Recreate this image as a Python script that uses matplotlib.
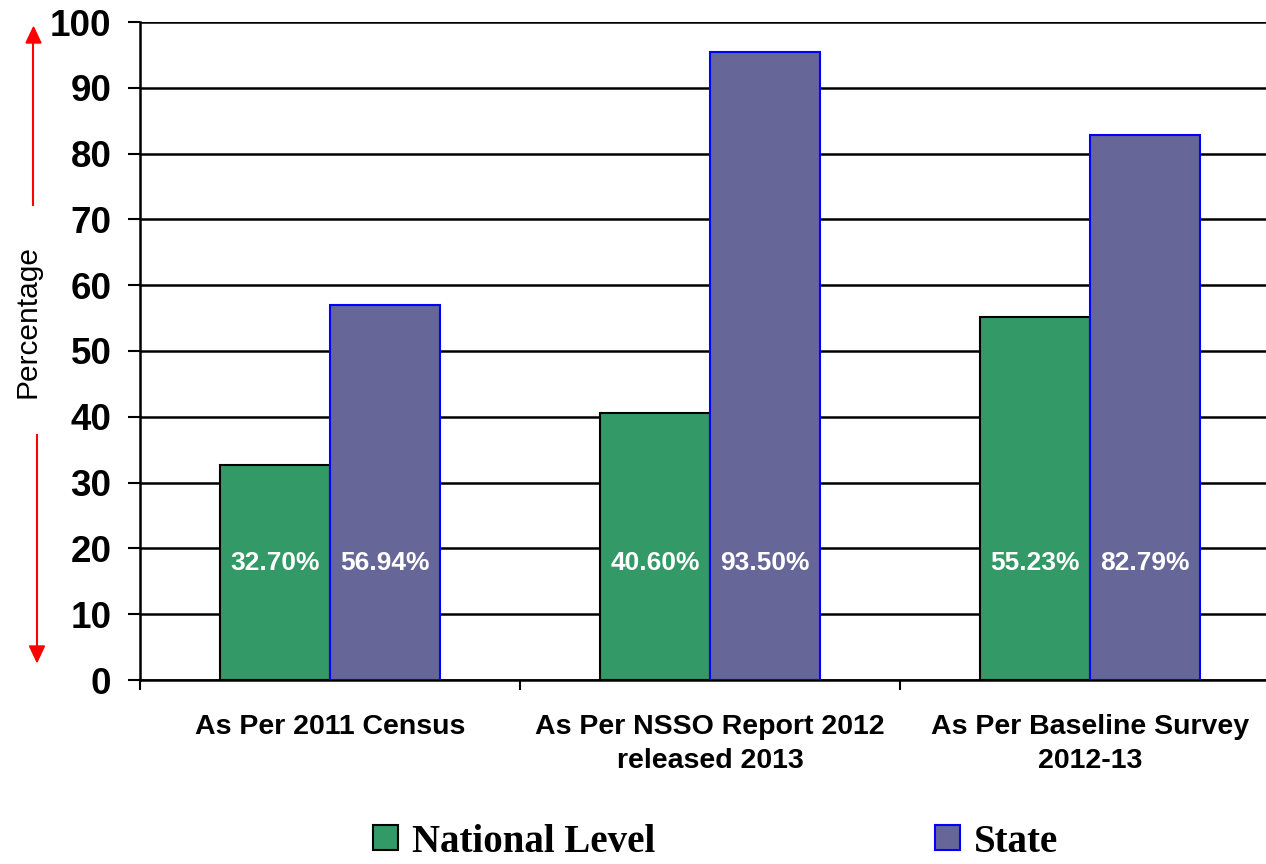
import matplotlib.pyplot as plt
from matplotlib.patches import Patch
import numpy as np

categories = ["As Per 2011 Census", "As Per NSSO Report 2012\nreleased 2013", "As Per Baseline Survey\n2012-13"]
national = [32.70, 40.60, 55.23]
state = [56.94, 95.40, 82.79]
national_labels = ["32.70%", "40.60%", "55.23%"]
state_labels = ["56.94%", "93.50%", "82.79%"]
yticks = [0, 10, 20, 30, 40, 50, 60, 70, 80, 90, 100]

green = "#339966"
purple = "#666699"

fig = plt.figure(figsize=(12.66, 8.64), dpi=100)
# axis runs past the right edge, like the source slide
ax = fig.add_axes([140/1266, 1 - 680/864, 1140/1266, 658/864])

x = np.arange(len(categories))
w = 0.29
ax.bar(x - w/2, national, w, color=green, edgecolor="black", linewidth=1.5, zorder=3)
ax.bar(x + w/2, state, w, color=purple, edgecolor="#0000ff", linewidth=1.5, zorder=3)

for i in range(len(categories)):
    ax.text(x[i] - w/2, 17.8, national_labels[i], color="white", fontsize=19, fontweight="bold",
            ha="center", va="center", family="Liberation Sans", zorder=4)
    ax.text(x[i] + w/2, 17.8, state_labels[i], color="white", fontsize=19, fontweight="bold",
            ha="center", va="center", family="Liberation Sans", zorder=4)

ax.set_xlim(-0.5, 2.5)
ax.set_ylim(0, 100)
ax.set_yticks(yticks)
ax.set_yticklabels([str(t) for t in yticks], fontsize=26.5, fontweight="bold", family="Liberation Sans")
ax.yaxis.grid(True, color="black", linewidth=1.8, zorder=0)
ax.tick_params(axis="y", length=8.6, width=1.5, pad=12)

ax.set_xticks([-0.5, 0.5, 1.5])
ax.set_xticklabels([])
ax.set_xticks(x, minor=True)
ax.set_xticklabels(categories, minor=True, fontsize=20.5, fontweight="bold", family="Liberation Sans",
                   linespacing=1.42)
ax.tick_params(axis="x", which="major", length=7, width=1.5)
ax.tick_params(axis="x", which="minor", length=0, pad=24.5)

for s in ["top", "right"]:
    ax.spines[s].set_visible(False)
ax.spines["left"].set_linewidth(1.8)
ax.spines["bottom"].set_linewidth(1.8)

fig.text(28/1266, 1 - 322/864, "Percentage", rotation=90, fontsize=21.5, family="Liberation Sans",
         ha="center", va="center")
fig.add_artist(plt.Line2D([33/1266, 33/1266], [1 - 205/864, 1 - 40/864], color="red", lw=1.5))
fig.add_artist(plt.Polygon([[26/1266, 1 - 43/864], [41/1266, 1 - 43/864], [33.5/1266, 1 - 27/864]],
                           closed=True, color="red"))
fig.add_artist(plt.Line2D([37/1266, 37/1266], [1 - 435/864, 1 - 648/864], color="red", lw=1.5))
fig.add_artist(plt.Polygon([[29.5/1266, 1 - 646/864], [44.5/1266, 1 - 646/864], [37/1266, 1 - 662/864]],
                           closed=True, color="red"))

handles = [Patch(facecolor=green, edgecolor="black", linewidth=1.5, label="National Level"),
           Patch(facecolor=purple, edgecolor="#0000ff", linewidth=1.5, label="State")]
fig.legend(handles=handles, loc="center left", bbox_to_anchor=(373/1266, 1 - 842/864), ncol=2,
           frameon=False, handlelength=0.64, handleheight=0.6, handletextpad=0.36,
           columnspacing=7.2, borderaxespad=0, borderpad=0,
           prop={"family": "Liberation Serif", "weight": "bold", "size": 28})

fig.savefig("out.png", dpi=100)
